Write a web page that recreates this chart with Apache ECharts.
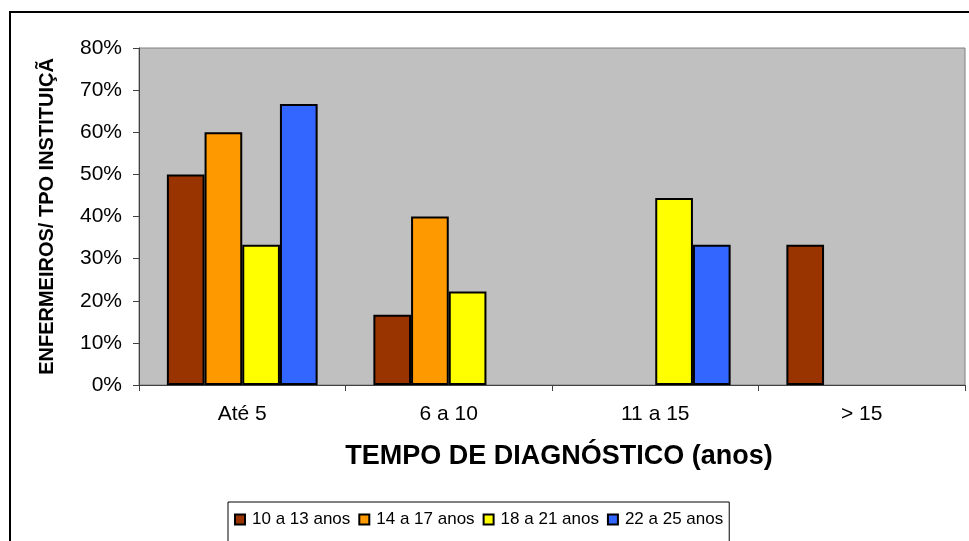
<!DOCTYPE html>
<html>
<head>
<meta charset="utf-8">
<script src="https://cdn.jsdelivr.net/npm/echarts@6/dist/echarts.min.js"></script>
<style>
html,body{margin:0;padding:0;background:#fff;}
#chart{width:969px;height:541px;}
</style>
</head>
<body>
<div id="chart"></div>
<script>
const categories = ['Até 5', '6 a 10', '11 a 15', '> 15'];
const seriesNames = ['10 a 13 anos', '14 a 17 anos', '18 a 21 anos', '22 a 25 anos'];
const s10a13 = [50, 16.7, 0, 33.3];
const s14a17 = [60, 40, 0, 0];
const s18a21 = [33.3, 22.2, 44.4, 0];
const s22a25 = [66.7, 0, 33.3, 0];
const colors = ['#993300', '#FF9900', '#FFFF00', '#3366FF'];
const yTicks = { min: 0, max: 80, interval: 10 };
const xTitle = 'TEMPO DE DIAGNÓSTICO (anos)';
const yTitle = 'ENFERMEIROS/ TPO INSTITUIÇÃ';

const seriesData = [s10a13, s14a17, s18a21, s22a25];
const font = 'Liberation Sans, Arial, sans-serif';

const chart = echarts.init(document.getElementById('chart'), null, { renderer: 'canvas' });
chart.setOption({
  animation: false,
  textStyle: { fontFamily: font, color: '#000' },
  graphic: [{
    type: 'rect', silent: true, z: 100,
    shape: { x: 10, y: 12, width: 1000, height: 600 },
    style: { fill: 'none', stroke: '#000', lineWidth: 2 }
  }],
  grid: {
    left: 139, right: 4, top: 48, bottom: 156,
    show: true, backgroundColor: '#C0C0C0', borderColor: '#808080', borderWidth: 1
  },
  legend: {
    left: 228, top: 502,
    orient: 'horizontal',
    itemWidth: 10, itemHeight: 10, itemGap: 8,
    padding: [9, 6, 30, 6],
    borderColor: '#000', borderWidth: 1,
    icon: 'rect',
    textStyle: { fontFamily: font, fontSize: 17, color: '#000', padding: [0, 0, 0, 2] },
    data: seriesNames
  },
  xAxis: {
    type: 'category',
    data: categories,
    name: xTitle,
    nameLocation: 'middle',
    nameGap: 58,
    nameTextStyle: { fontFamily: font, fontSize: 27, fontWeight: 'bold', color: '#000', padding: [0, 0, 0, 14] },
    axisLine: { lineStyle: { color: '#404040', width: 1 } },
    axisTick: { show: true, length: 6, lineStyle: { color: '#404040' } },
    axisLabel: { fontFamily: font, fontSize: 21, color: '#000', margin: 19 }
  },
  yAxis: {
    type: 'value',
    min: yTicks.min, max: yTicks.max, interval: yTicks.interval,
    name: yTitle,
    nameLocation: 'middle',
    nameGap: 82,
    nameRotate: 90,
    nameTextStyle: { fontFamily: font, fontSize: 20, fontWeight: 'bold', color: '#000' },
    axisLine: { show: true, lineStyle: { color: '#404040', width: 1 } },
    axisTick: { show: true, length: 6, lineStyle: { color: '#404040' } },
    splitLine: { show: false },
    axisLabel: { fontFamily: font, fontSize: 21, color: '#000', margin: 17, padding: [5, 0, 0, 0], formatter: '{value}%' }
  },
  series: seriesNames.map((name, i) => ({
    name: name,
    type: 'bar',
    data: seriesData[i].map(v => v === 0 ? { value: v, itemStyle: { borderWidth: 0 } } : v),
    barGap: '0%',
    barCategoryGap: '27%',
    itemStyle: { color: colors[i], borderColor: '#000', borderWidth: 2 }
  }))
});
</script>
</body>
</html>
